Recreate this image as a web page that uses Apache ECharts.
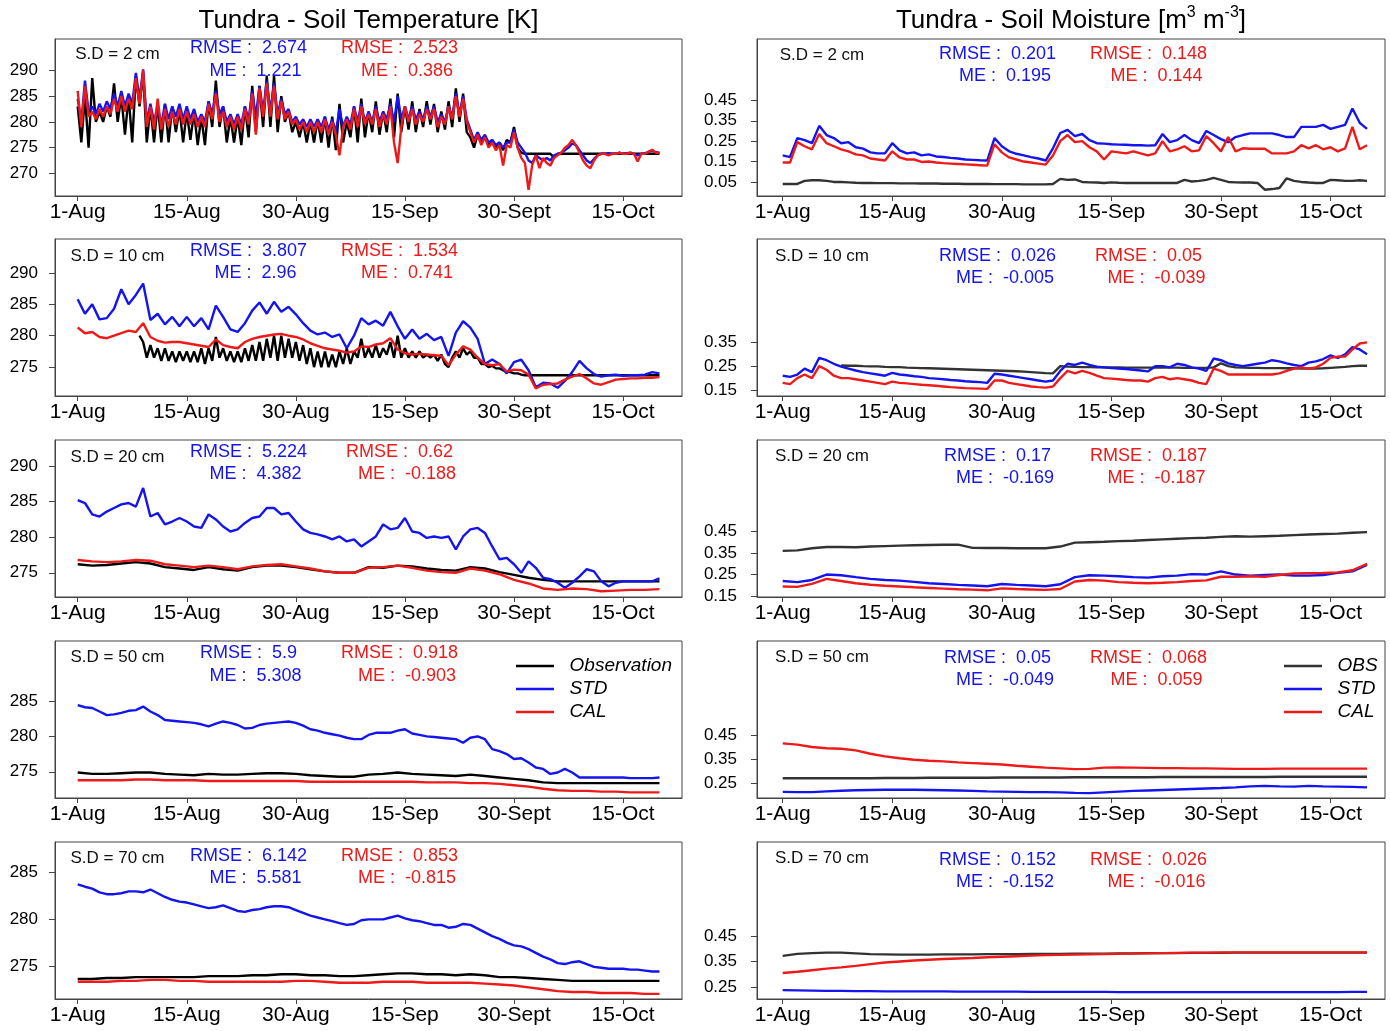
<!DOCTYPE html>
<html>
<head>
<meta charset="utf-8">
<script src="https://cdn.jsdelivr.net/npm/echarts@6.0.0/dist/echarts.min.js"></script>
<style>html,body{margin:0;padding:0;background:#fff}#chart{width:1390px;height:1031px}</style>
</head>
<body>
<div id="chart"></div>
<script>
// x values are days since 1-Aug
const tickDays = [0, 15, 30, 45, 60, 75];
const tickLabels = ['1-Aug', '15-Aug', '30-Aug', '15-Sep', '30-Sept', '15-Oct'];

// ---- soil temperature [K] ----
// 2 cm, every half day from 1-Aug
const tObs2 = [
  283, 276, 285, 275, 288.5, 280, 282, 280, 283, 281,
  287.5, 280, 285, 277.5, 285, 276, 289, 283, 289.5, 276,
  283, 276, 283.5, 276, 283.5, 276, 283, 278, 282.5, 276,
  282, 276.5, 282, 275.5, 281, 275.5, 284, 279, 288, 279,
  283, 276, 281, 276, 281, 275.5, 283, 277, 287, 278,
  287, 279, 289, 279, 289, 278, 285, 280, 282, 278,
  280, 277, 280, 276, 280, 276, 280.5, 276, 281, 275,
  281, 274.5, 283.5, 276, 280, 277, 283, 276, 284.5, 277,
  282, 278, 284, 277.5, 282, 278, 284.5, 277, 285.5, 278,
  283, 278.5, 284, 278, 282.5, 279, 284, 279.5, 283.5, 278,
  282, 278.5, 284, 279, 286.5, 280, 285.5, 278, 277, 275,
  277.5, 276, 277, 275.5, 276.5, 275, 276, 274.5, 276.5, 276,
  279, 275, 274, 273.8, 273.8, 273.8, 273.8, 273.8, 273.8, 273.8,
  273.8, 273.1, 273.8, 273.8, 273.8, 273.8, 273.8, 273.8, 273.8, 273.8,
  273.8, 273.8, 273.8, 273.8, 273.8, 273.8, 273.8, 273.8, 273.8, 273.8,
  273.8, 273.8, 273.8, 273.8, 273.8, 273.8, 273.8, 273.8, 273.8, 273.8,
  273.8
];
const tStd2 = [
  284.5, 280, 288, 282, 283, 281.5, 283.5, 282, 284, 282.5,
  285.5, 283, 286, 283, 285.5, 283.5, 289.5, 284.5, 290.2, 280,
  283.5, 280, 283, 279.5, 283.5, 280.5, 283, 281, 283.5, 280.5,
  283, 280.5, 282.5, 280, 281.5, 280, 284, 281.5, 286, 281.5,
  283, 280, 281.5, 279.5, 281.5, 279.5, 283, 280.5, 286, 281,
  287, 282, 288, 282, 287.5, 281.5, 284.5, 281.5, 282.5, 280,
  281, 279.5, 280.5, 279, 280.5, 279, 280.5, 279, 281, 278.5,
  280.5, 278, 282.5, 279, 281, 279.5, 283, 280, 283.5, 280,
  282, 280, 283, 280, 282, 280.5, 283.5, 280, 285, 280.5,
  283, 280.5, 283, 280.5, 282, 280.5, 283, 281, 283, 280,
  281.5, 280, 283, 281, 285.5, 281.5, 285, 280.5, 278.5, 276.5,
  278, 276.5, 277.5, 276, 276.5, 275.5, 276, 275, 276, 276,
  278.5, 276, 275, 274, 272.5, 272, 273.5, 273, 272.5, 273,
  272.5, 273.5, 273.8, 274, 274.5, 275, 275.8, 275.5, 274.5, 273.5,
  272.5, 272, 272.8, 273.5, 273.8, 273.8, 273.9, 273.8, 273.8, 274,
  273.8, 273.9, 274, 273.8, 273.5, 273.8, 273.9, 274.2, 274.4, 274.1,
  274
];
const tCal2 = [
  286, 279, 287, 281, 282, 280.5, 282.5, 281, 283, 281.5,
  284.5, 282, 285, 282, 284.5, 282.5, 288.5, 283.5, 290, 279,
  283, 278.5, 284.5, 278.5, 282.5, 279, 282, 279.5, 282.5, 279.5,
  282, 279.5, 281.5, 279, 281, 279, 283.5, 280.5, 285.5, 280,
  282, 279, 281, 278.5, 281, 278.5, 282.5, 279.5, 285.5, 277.5,
  286.5, 281, 287.5, 281, 287, 280.5, 284, 280.5, 282, 279.5,
  280.5, 278.5, 280, 278, 280, 278, 280, 278, 280.5, 277.5,
  280, 277.5, 273.5, 279, 280.5, 278.5, 282.5, 279, 283, 279.5,
  281.5, 279.5, 282.5, 279, 281.5, 279.5, 283, 276, 272, 279,
  283, 280, 282.5, 279.5, 281.5, 280, 282.5, 280.5, 282.5, 279,
  281, 279.5, 283, 280.5, 285, 281, 284.5, 280, 278, 276,
  277.5, 275.5, 277, 275, 276, 274.5, 275.5, 271.5, 275.5, 275,
  278, 275, 273, 272, 266.8, 271.6, 273.5, 271, 273, 272,
  271.5, 273, 273.5, 274, 275, 275.5, 276.5, 275.5, 274, 272.5,
  271.5, 271, 272.5, 273.5, 273.8, 273.8, 273.5, 273.8, 273.8, 274,
  273.8, 273.8, 274, 273.8, 272.3, 273.8, 273.8, 274.2, 274.6, 274,
  274
];
// 10 cm: observation every half day from 9-Aug, model daily
const tObs10 = [
  280, 279, 276.5, 278.5, 276.5, 278, 276, 278, 276, 277.5,
  275.8, 277.5, 276, 277.5, 275.8, 277.5, 275.8, 278, 275.5, 278,
  276, 279.8, 276.5, 278, 276, 277.5, 275.8, 277.5, 275.8, 278,
  276, 278.5, 276, 279, 276, 279.5, 276.5, 280, 276, 280,
  276.5, 279.5, 276.5, 279, 276, 278.5, 275.5, 278, 275, 277.5,
  275, 277.5, 275, 277, 275, 277.5, 275.5, 278, 275.5, 277.5,
  276.5, 279.5, 276.5, 278, 276.5, 278.5, 276.5, 278, 277, 279,
  276.5, 280, 276.5, 278, 276.5, 277.5, 276.5, 277.5, 276.5, 277,
  276.5, 277, 276, 277, 275.5, 275, 276.5, 277.5, 276.5, 278,
  277, 277.5, 276.5, 276.5, 275.5, 275.5, 275, 275.2, 274.8, 274.8,
  274.5, 274.3, 274.2, 274, 274, 273.8, 273.7, 273.7, 273.7, 273.7,
  273.7, 273.7, 273.7, 273.7, 273.7, 273.7, 273.7, 273.7, 273.7, 273.7,
  273.7, 273.7, 273.7, 273.7, 273.7, 273.7, 273.7, 273.7, 273.7, 273.7,
  273.7, 273.7, 273.7, 273.7, 273.7, 273.7, 273.7, 273.7, 273.7, 273.7,
  273.7, 273.7, 273.7, 273.7
];
const tStd10 = [
  285.8, 283.5, 285, 282.6, 282.8, 284.3, 287.4, 285, 286.5, 288.3,
  282.5, 283.5, 281.8, 283, 281.5, 283, 281.5, 282.8, 281, 284.8,
  283, 281, 280.6, 282, 284, 285.3, 283.5, 285.4, 283.8, 284.6,
  283.4, 282, 280.8, 280.2, 280.5, 279.8, 280.2, 278, 280, 282.8,
  281.8, 282.4, 281.6, 283.8, 281.5, 279.5, 281, 279.5, 280.3, 279.3,
  279.8, 276.8, 280.5, 282.3, 281.3, 279.5, 275.5, 276.2, 275.5, 274,
  275.8, 276.2, 274.5, 271.8, 272.5, 272.4, 271.7, 272.8, 274.2, 276,
  274.8, 273.9, 273.5, 273.7, 273.8, 273.6, 273.7, 273.7, 273.8, 274.2,
  274
];
const tCal10 = [
  281.3, 280.4, 280.6, 279.8, 279.6, 280, 280.4, 280.8, 280.6, 282,
  279.8, 279.2, 278.9, 279, 279, 278.8, 278.6, 278.4, 278.2, 279.4,
  278.5, 278.2, 278, 279, 279.5, 279.8, 280, 280.2, 280.3, 280,
  279.8, 279.4, 278.8, 278.4, 278, 277.8, 277.6, 277.3, 277.5, 278.3,
  278.2, 278.6, 278.8, 279.6, 277.8, 277.2, 277, 277.1, 277, 276.9,
  276.8, 275.3, 277, 278.3, 277.8, 276.5, 275.5, 275.3, 275.5, 274.3,
  274.6, 274.5, 273.8, 271.6, 272.2, 272.3, 272.4, 273, 273.5, 273.9,
  273.2, 272.4, 272.2, 272.6, 273, 273.1, 273.2, 273.2, 273.3, 273.3,
  273.4
];
// 20 cm: model STD daily, observation and CAL every 2 days
const tStd20 = [
  285.2, 284.8, 283.2, 282.9, 283.6, 284.1, 284.6, 284.8, 284.3, 286.9,
  282.9, 283.4, 281.8, 282.2, 282.7, 282.2, 281.5, 281.3, 283.2, 282.5,
  281.5, 280.8, 281.1, 282, 282.7, 282.9, 284.1, 284.1, 283.2, 283.4,
  282.2, 281.1, 280.6, 280.4, 280.1, 279.7, 280.1, 279.4, 279.7, 278.7,
  279.4, 280.1, 281.8, 281.1, 281.3, 282.7, 280.8, 280.6, 279.9, 280.1,
  279.9, 280.1, 278.3, 280.1, 281.1, 281.3, 280.6, 278.7, 276.9, 277.1,
  276.2, 275, 276.6, 275.7, 274.3, 274.1, 273.6, 272.9, 273.6, 274.5,
  275.5, 275.2, 273.8, 273.1, 273.6, 273.8, 273.8, 273.8, 273.8, 273.8,
  274.2
];
const tObs20 = [
  276.2, 276, 276.1, 276.3, 276.5, 276.3, 275.8, 275.6, 275.4, 275.8,
  275.5, 275.3, 275.8, 276, 276, 275.8, 275.5, 275.2, 275, 275,
  275.8, 275.7, 276, 275.9, 275.6, 275.4, 275.3, 275.8, 275.6, 275.1,
  274.7, 274.3, 274, 273.8, 273.8, 273.8, 273.8, 273.8, 273.8, 273.8,
  273.8
];
const tCal20 = [
  276.8, 276.6, 276.5, 276.6, 276.8, 276.7, 276.2, 276, 275.8, 276,
  275.8, 275.5, 275.9, 276.1, 276.2, 275.9, 275.6, 275.2, 275, 275,
  275.7, 275.8, 276, 275.7, 275.3, 275.1, 275, 275.6, 275.3, 274.8,
  274, 273.5, 272.8, 272.6, 272.8, 272.7, 272.4, 272.5, 272.6, 272.6,
  272.7
];
// 50 cm
const tStd50 = [
  284.4, 284.1, 284, 283.5, 283, 283.1, 283.3, 283.6, 283.7, 284.2,
  283.5, 283, 282.3, 282.2, 282.1, 282, 281.9, 281.7, 281.4, 281.8,
  282.1, 281.9, 281.6, 281.1, 281.2, 281.6, 281.8, 281.9, 282, 282.1,
  281.9, 281.5, 281, 280.8, 280.5, 280.3, 280.1, 279.8, 279.6, 279.6,
  280.2, 280.5, 280.5, 280.5, 280.8, 281, 280.4, 280.2, 280, 279.9,
  279.8, 279.7, 279.6, 279.1, 279.8, 280, 279.6, 278.2, 277.9, 277.5,
  276.8, 276.9, 276.3, 275.6, 275.4, 274.7, 274.9, 275.4, 274.9, 274.2,
  274.2, 274.2, 274.2, 274.2, 274.2, 274.2, 274.1, 274.1, 274.1, 274.1,
  274.2
];
const tObs50 = [
  274.9, 274.7, 274.7, 274.8, 274.9, 274.9, 274.7, 274.6, 274.5, 274.7,
  274.6, 274.6, 274.7, 274.8, 274.8, 274.7, 274.5, 274.4, 274.3, 274.3,
  274.6, 274.7, 274.9, 274.7, 274.6, 274.5, 274.4, 274.6, 274.4, 274.2,
  274, 273.8, 273.5, 273.4, 273.4, 273.4, 273.4, 273.4, 273.4, 273.4,
  273.4
];
const tCal50 = [
  273.8, 273.8, 273.8, 273.8, 273.9, 273.9, 273.8, 273.8, 273.8, 273.7,
  273.7, 273.7, 273.7, 273.7, 273.7, 273.7, 273.6, 273.6, 273.6, 273.6,
  273.6, 273.6, 273.6, 273.6, 273.5, 273.5, 273.5, 273.4, 273.4, 273.3,
  273.1, 272.9, 272.6, 272.4, 272.3, 272.3, 272.2, 272.2, 272.1, 272.1,
  272.1
];
// 70 cm
const tStd70 = [
  283.75, 283.5, 283.3, 282.9, 282.7, 282.7, 282.8, 283, 283, 282.9,
  283.2, 282.8, 282.4, 282.1, 281.9, 281.8, 281.6, 281.4, 281.2, 281.3,
  281.5, 281.2, 280.9, 280.8, 281, 281.1, 281.3, 281.4, 281.4, 281.3,
  281, 280.7, 280.4, 280.2, 280, 279.8, 279.6, 279.4, 279.5, 279.9,
  280, 280, 280, 280.2, 280.4, 280.1, 279.9, 279.8, 279.6, 279.4,
  279.4, 279.1, 279.2, 279.5, 279.4, 279, 278.6, 278.2, 277.9, 277.5,
  277.2, 277.1, 276.8, 276.4, 276, 275.7, 275.3, 275.2, 275.4, 275.5,
  275.2, 274.9, 274.8, 274.7, 274.7, 274.7, 274.6, 274.6, 274.5, 274.4,
  274.4
];
const tObs70 = [
  273.6, 273.6, 273.7, 273.7, 273.8, 273.8, 273.8, 273.8, 273.8, 273.9,
  273.9, 273.9, 274, 274, 274.1, 274.1, 274, 274, 273.9, 273.9,
  274, 274.1, 274.2, 274.2, 274.1, 274.1, 274, 274.1, 274, 273.8,
  273.8, 273.7, 273.6, 273.5, 273.4, 273.4, 273.4, 273.4, 273.4, 273.4,
  273.4
];
const tCal70 = [
  273.3, 273.3, 273.3, 273.4, 273.4, 273.5, 273.5, 273.4, 273.4, 273.3,
  273.3, 273.3, 273.3, 273.3, 273.3, 273.4, 273.4, 273.3, 273.2, 273.2,
  273.2, 273.3, 273.3, 273.3, 273.2, 273.2, 273.2, 273.2, 273.1, 273,
  272.9, 272.7, 272.5, 272.3, 272.2, 272.2, 272.1, 272.1, 272.1, 272,
  272
];

// ---- soil moisture [m3 m-3] ----
const mStd2 = [
  0.18, 0.172, 0.265, 0.255, 0.24, 0.325, 0.28, 0.265, 0.24, 0.245,
  0.22, 0.213, 0.195, 0.19, 0.19, 0.24, 0.205, 0.19, 0.195, 0.18,
  0.185, 0.175, 0.172, 0.168, 0.165, 0.16, 0.158, 0.156, 0.155, 0.265,
  0.225, 0.2, 0.188, 0.18, 0.172, 0.165, 0.155, 0.215, 0.29, 0.305,
  0.275, 0.285, 0.255, 0.24, 0.238, 0.235, 0.233, 0.232, 0.23, 0.23,
  0.228, 0.23, 0.285, 0.245, 0.255, 0.28, 0.255, 0.24, 0.3, 0.28,
  0.26, 0.245, 0.27, 0.28, 0.288, 0.288, 0.288, 0.288, 0.28, 0.27,
  0.27, 0.32, 0.32, 0.32, 0.33, 0.31, 0.32, 0.33, 0.41, 0.34,
  0.31
];
const mCal2 = [
  0.145, 0.145, 0.245, 0.225, 0.21, 0.285, 0.24, 0.225, 0.21, 0.2,
  0.185, 0.18, 0.165, 0.16, 0.155, 0.2, 0.17, 0.16, 0.16, 0.148,
  0.15, 0.145, 0.142, 0.14, 0.138, 0.136, 0.134, 0.132, 0.13, 0.235,
  0.195, 0.17, 0.16, 0.15, 0.145, 0.14, 0.135, 0.18, 0.25, 0.28,
  0.245, 0.25, 0.22, 0.2, 0.16, 0.2, 0.195, 0.19, 0.2, 0.19,
  0.18, 0.19, 0.25, 0.2, 0.21, 0.225, 0.2, 0.205, 0.275, 0.24,
  0.2, 0.27, 0.2, 0.215, 0.213, 0.213, 0.213, 0.19, 0.19, 0.19,
  0.2, 0.23, 0.215, 0.23, 0.21, 0.22, 0.2, 0.215, 0.32, 0.21,
  0.23
];
const mObs2 = [
  0.04, 0.04, 0.04, 0.055, 0.058, 0.058, 0.055, 0.05, 0.05, 0.048,
  0.046, 0.045, 0.045, 0.044, 0.044, 0.044, 0.043, 0.043, 0.043, 0.042,
  0.042, 0.042, 0.041, 0.041, 0.041, 0.04, 0.04, 0.04, 0.04, 0.039,
  0.039, 0.039, 0.039, 0.038, 0.038, 0.038, 0.038, 0.04, 0.065, 0.06,
  0.062, 0.05, 0.048, 0.047, 0.045, 0.048, 0.046, 0.045, 0.045, 0.045,
  0.045, 0.045, 0.045, 0.045, 0.045, 0.06, 0.052, 0.055, 0.06, 0.07,
  0.06, 0.05, 0.048, 0.047, 0.047, 0.045, 0.012, 0.015, 0.02, 0.068,
  0.055, 0.05, 0.047, 0.045, 0.045, 0.06, 0.058, 0.055, 0.055, 0.058,
  0.055
];
const mStd10 = [
  0.21, 0.205, 0.215, 0.24, 0.225, 0.285, 0.275, 0.26, 0.248, 0.24,
  0.232, 0.225, 0.22, 0.215, 0.21, 0.222, 0.215, 0.212, 0.208, 0.205,
  0.2, 0.198, 0.195, 0.192, 0.19, 0.187, 0.185, 0.183, 0.18, 0.218,
  0.215, 0.21, 0.205, 0.2, 0.195, 0.19, 0.185, 0.19, 0.23, 0.26,
  0.255, 0.265, 0.255, 0.248, 0.245, 0.242, 0.24, 0.238, 0.235, 0.232,
  0.228, 0.25, 0.25, 0.245, 0.26, 0.255, 0.245, 0.24, 0.23, 0.282,
  0.275, 0.262, 0.255, 0.25, 0.255, 0.26, 0.265, 0.275, 0.27, 0.262,
  0.255, 0.25, 0.265, 0.27, 0.28, 0.295, 0.285, 0.3, 0.33, 0.32,
  0.3
];
const mCal10 = [
  0.18, 0.175, 0.2, 0.215, 0.2, 0.25, 0.235, 0.21, 0.2, 0.2,
  0.195, 0.19, 0.185, 0.18, 0.175, 0.185, 0.18, 0.178, 0.175, 0.172,
  0.17, 0.168, 0.165, 0.162, 0.16, 0.158, 0.157, 0.156, 0.155, 0.19,
  0.19, 0.18, 0.175, 0.17, 0.165, 0.162, 0.16, 0.165, 0.2, 0.23,
  0.22, 0.23, 0.222, 0.21, 0.2, 0.198, 0.195, 0.192, 0.19, 0.19,
  0.185, 0.2, 0.205, 0.195, 0.2, 0.195, 0.19, 0.18, 0.175, 0.24,
  0.23, 0.215, 0.215, 0.215, 0.215, 0.215, 0.215, 0.215, 0.22, 0.23,
  0.24, 0.245, 0.24, 0.245, 0.26, 0.285, 0.29, 0.29, 0.32, 0.345,
  0.35
];
// observation starts on 9-Aug
const mObs10 = [
  0.253, 0.252, 0.252, 0.25, 0.249, 0.249, 0.247, 0.246, 0.246, 0.244,
  0.243, 0.242, 0.241, 0.24, 0.239, 0.238, 0.237, 0.236, 0.235, 0.234,
  0.233, 0.232, 0.231, 0.23, 0.229, 0.227, 0.225, 0.223, 0.221, 0.22,
  0.25, 0.248, 0.247, 0.246, 0.246, 0.245, 0.245, 0.245, 0.245, 0.244,
  0.244, 0.244, 0.244, 0.244, 0.244, 0.244, 0.244, 0.243, 0.243, 0.243,
  0.243, 0.245, 0.262, 0.25, 0.245, 0.244, 0.243, 0.243, 0.242, 0.242,
  0.242, 0.241, 0.241, 0.24, 0.24, 0.24, 0.241, 0.243, 0.245, 0.247,
  0.25, 0.252, 0.252
];
// 20, 50, 70 cm every 2 days
const mObs20 = [
  0.36, 0.362, 0.372, 0.378, 0.378, 0.377, 0.38, 0.382, 0.384, 0.386,
  0.387, 0.388, 0.389, 0.374, 0.373, 0.373, 0.372, 0.372, 0.372, 0.38,
  0.398, 0.4, 0.402, 0.405, 0.407, 0.41, 0.413, 0.416, 0.419, 0.421,
  0.425, 0.428, 0.426, 0.428, 0.43, 0.433, 0.436, 0.438, 0.44, 0.444,
  0.447
];
const mStd20 = [
  0.22, 0.215, 0.225, 0.25, 0.247, 0.238, 0.23, 0.225, 0.222, 0.216,
  0.21, 0.206, 0.202, 0.199, 0.196, 0.206, 0.202, 0.199, 0.196, 0.205,
  0.238, 0.247, 0.245, 0.242, 0.238, 0.236, 0.242, 0.245, 0.252, 0.25,
  0.265, 0.25, 0.245, 0.248, 0.25, 0.245, 0.245, 0.248, 0.258, 0.265,
  0.295
];
const mCal20 = [
  0.195, 0.193, 0.207, 0.23, 0.22, 0.21, 0.203, 0.198, 0.195, 0.191,
  0.188, 0.185, 0.182, 0.18, 0.177, 0.186, 0.183, 0.181, 0.179, 0.183,
  0.218, 0.225, 0.222, 0.215, 0.212, 0.21, 0.212, 0.215, 0.22, 0.223,
  0.24, 0.24, 0.242, 0.24, 0.248, 0.255, 0.256, 0.257, 0.26, 0.27,
  0.3
];
const mObs50 = [
  0.27, 0.27, 0.27, 0.27, 0.27, 0.27, 0.27, 0.271, 0.271, 0.271,
  0.272, 0.272, 0.272, 0.272, 0.272, 0.273, 0.273, 0.273, 0.273, 0.273,
  0.274, 0.274, 0.274, 0.274, 0.274, 0.274, 0.275, 0.275, 0.275, 0.275,
  0.275, 0.275, 0.275, 0.275, 0.276, 0.276, 0.276, 0.276, 0.276, 0.276,
  0.276
];
const mStd50 = [
  0.213, 0.212, 0.212, 0.215, 0.218, 0.22, 0.221, 0.222, 0.222, 0.222,
  0.221, 0.22, 0.219, 0.217, 0.215, 0.214, 0.213, 0.212, 0.212, 0.211,
  0.209, 0.208, 0.211, 0.214, 0.217, 0.219, 0.221, 0.223, 0.225, 0.227,
  0.229, 0.232, 0.236, 0.238, 0.236, 0.235, 0.238, 0.236, 0.235, 0.234,
  0.232
];
const mCal50 = [
  0.415, 0.41, 0.4, 0.395, 0.393, 0.386, 0.372, 0.361, 0.353, 0.347,
  0.343, 0.34, 0.336, 0.333, 0.33, 0.327, 0.322, 0.318, 0.314, 0.311,
  0.308, 0.309, 0.314, 0.315, 0.314, 0.313, 0.312, 0.312, 0.311, 0.311,
  0.31, 0.309, 0.309, 0.309, 0.31, 0.31, 0.31, 0.31, 0.31, 0.31,
  0.31
];
const mObs70 = [
  0.372, 0.38, 0.383, 0.385, 0.385, 0.382, 0.379, 0.378, 0.377, 0.377,
  0.377, 0.378, 0.378, 0.378, 0.379, 0.379, 0.379, 0.38, 0.38, 0.38,
  0.381, 0.381, 0.381, 0.382, 0.382, 0.383, 0.383, 0.383, 0.384, 0.384,
  0.384, 0.385, 0.385, 0.385, 0.385, 0.385, 0.385, 0.385, 0.385, 0.385,
  0.385
];
const mStd70 = [
  0.238, 0.237, 0.236, 0.235, 0.235, 0.234, 0.234, 0.233, 0.233, 0.233,
  0.233, 0.233, 0.232, 0.232, 0.232, 0.232, 0.232, 0.231, 0.231, 0.231,
  0.231, 0.231, 0.231, 0.23, 0.23, 0.23, 0.23, 0.23, 0.23, 0.23,
  0.23, 0.23, 0.23, 0.23, 0.23, 0.23, 0.23, 0.23, 0.23, 0.231,
  0.231
];
const mCal70 = [
  0.305, 0.31, 0.316, 0.322, 0.327, 0.333, 0.34, 0.346, 0.35, 0.354,
  0.357, 0.36, 0.362, 0.364, 0.367, 0.369, 0.371, 0.373, 0.375, 0.376,
  0.377, 0.378, 0.379, 0.38, 0.381, 0.382, 0.383, 0.384, 0.385, 0.385,
  0.386, 0.386, 0.386, 0.386, 0.386, 0.386, 0.386, 0.386, 0.386, 0.386,
  0.386
];

// ---- labels and scores ----
const depths = ['S.D = 2 cm', 'S.D = 10 cm', 'S.D = 20 cm', 'S.D = 50 cm', 'S.D = 70 cm'];
const tRmseStd = ['2.674', '3.807', '5.224', '5.9', '6.142'];
const tMeStd = ['1.221', '2.96', '4.382', '5.308', '5.581'];
const tRmseCal = ['2.523', '1.534', '0.62', '0.918', '0.853'];
const tMeCal = ['0.386', '0.741', '-0.188', '-0.903', '-0.815'];
const mRmseStd = ['0.201', '0.026', '0.17', '0.05', '0.152'];
const mMeStd = ['0.195', '-0.005', '-0.169', '-0.049', '-0.152'];
const mRmseCal = ['0.148', '0.05', '0.187', '0.068', '0.026'];
const mMeCal = ['0.144', '-0.039', '-0.187', '0.059', '-0.016'];

const tTicks = [[270, 275, 280, 285, 290], [275, 280, 285, 290], [275, 280, 285, 290], [275, 280, 285], [275, 280, 285]];
const mTicks = [[0.05, 0.15, 0.25, 0.35, 0.45], [0.15, 0.25, 0.35], [0.15, 0.25, 0.35, 0.45], [0.25, 0.35, 0.45], [0.25, 0.35, 0.45]];

// ---- layout ----
const FONT = '"Liberation Sans", Arial, sans-serif';
const BLUE = '#1414ee', RED = '#ee1a1a';
const ROW_TOP = [39, 239, 440, 641, 842], ROW_H = 157;
const COL = [
  { left: 55, width: 627, xMin: -3.12, xMax: 83.1, margin: 17 },
  { left: 757, width: 628, xMin: -3.52, xMax: 82.46, margin: 20 }
];
const tRange = [[265.6, 296.1], [270.4, 295.4], [271.6, 293.65], [271.3, 293.45], [271.45, 288.3]];
const mRange = [[-0.019, 0.751], [0.125, 0.783], [0.146, 0.874], [0.1875, 0.842], [0.203, 0.819]];
const txtY = [
  [[54, 48, 71], [256, 251, 273], [457, 452, 474], [657, 653, 676], [858, 856, 878]],
  [[55, 54, 76], [256, 256, 278], [456, 456, 478], [657, 658, 680], [858, 860, 882]]
];
const txtX = [
  { sd: 117.5, rs: 248.5, ms: 255.5, rc: 399.5, mc: 407 },
  { sd: 822, rs: 997.5, ms: 1005, rc: 1148.5, mc: 1156.5 }
];

const pts = (vals, start, step) => vals.map((v, i) => [start + i * step, v]);

const panels = [
  // temperature column
  { col: 0, row: 0, s: [[tObs2, 0, 0.5], [tStd2, 0, 0.5], [tCal2, 0, 0.5]] },
  { col: 0, row: 1, s: [[tObs10, 8.5, 0.5], [tStd10, 0, 1], [tCal10, 0, 1]] },
  { col: 0, row: 2, s: [[tObs20, 0, 2], [tStd20, 0, 1], [tCal20, 0, 2]] },
  { col: 0, row: 3, s: [[tObs50, 0, 2], [tStd50, 0, 1], [tCal50, 0, 2]] },
  { col: 0, row: 4, s: [[tObs70, 0, 2], [tStd70, 0, 1], [tCal70, 0, 2]] },
  // moisture column
  { col: 1, row: 0, s: [[mObs2, 0, 1], [mStd2, 0, 1], [mCal2, 0, 1]] },
  { col: 1, row: 1, s: [[mObs10, 8, 1], [mStd10, 0, 1], [mCal10, 0, 1]] },
  { col: 1, row: 2, s: [[mObs20, 0, 2], [mStd20, 0, 2], [mCal20, 0, 2]] },
  { col: 1, row: 3, s: [[mObs50, 0, 2], [mStd50, 0, 2], [mCal50, 0, 2]] },
  { col: 1, row: 4, s: [[mObs70, 0, 2], [mStd70, 0, 2], [mCal70, 0, 2]] }
];

const grid = [], xAxis = [], yAxis = [], series = [], graphic = [];
const axisColor = '#444';

panels.forEach((p, g) => {
  const c = COL[p.col];
  const isT = p.col === 0;
  const range = isT ? tRange[p.row] : mRange[p.row];
  const ticks = isT ? tTicks[p.row] : mTicks[p.row];
  grid.push({ left: c.left, top: ROW_TOP[p.row], width: c.width, height: ROW_H,
    show: true, borderColor: axisColor, borderWidth: 1, backgroundColor: 'transparent' });
  xAxis.push({
    type: 'value', gridIndex: g, min: c.xMin, max: c.xMax,
    axisLine: { show: true, onZero: false, lineStyle: { color: axisColor } },
    axisTick: { show: true, customValues: tickDays, length: 5, lineStyle: { color: axisColor } },
    axisLabel: { customValues: tickDays, formatter: v => tickLabels[tickDays.indexOf(v)],
      fontSize: 21, fontFamily: FONT, color: '#000', margin: 6 },
    splitLine: { show: false }
  });
  yAxis.push({
    type: 'value', gridIndex: g, min: range[0], max: range[1],
    axisLine: { show: true, onZero: false, lineStyle: { color: axisColor } },
    axisTick: { show: true, customValues: ticks, length: 6, lineStyle: { color: axisColor } },
    axisLabel: { customValues: ticks, formatter: v => isT ? String(v) : v.toFixed(2),
      fontSize: 17, fontFamily: FONT, color: '#000', margin: c.margin },
    splitLine: { show: false }
  });
  const names = [isT ? 'Observation' : 'OBS', 'STD', 'CAL'];
  const colors = [isT ? '#000' : '#333', BLUE, RED];
  p.s.forEach((sp, k) => {
    series.push({
      type: 'line', name: names[k], xAxisIndex: g, yAxisIndex: g,
      data: pts(sp[0], sp[1], sp[2]), showSymbol: false, symbol: 'none',
      lineStyle: { color: colors[k], width: 2.4 }, itemStyle: { color: colors[k] },
      z: 2 + k
    });
  });
  // panel texts
  const tx = txtX[p.col], ty = txtY[p.col][p.row];
  const rs = isT ? tRmseStd : mRmseStd, ms = isT ? tMeStd : mMeStd;
  const rc = isT ? tRmseCal : mRmseCal, mc = isT ? tMeCal : mMeCal;
  const txt = (text, x, y, fill, size) => ({ type: 'text', z: 10, style: {
    text, x, y, fill, fontSize: size, fontFamily: FONT, align: 'center', verticalAlign: 'middle' } });
  graphic.push(
    txt(depths[p.row], tx.sd, ty[0], '#111', 17),
    txt('RMSE :  ' + rs[p.row], tx.rs, ty[1], BLUE, 18),
    txt('ME :  ' + ms[p.row], tx.ms, ty[2], BLUE, 18),
    txt('RMSE :  ' + rc[p.row], tx.rc, ty[1], RED, 18),
    txt('ME :  ' + mc[p.row], tx.mc, ty[2], RED, 18)
  );
});

graphic.push(
  { type: 'text', style: { text: 'Tundra - Soil Temperature [K]', x: 368.5, y: 21, fill: '#000',
    fontSize: 26, fontFamily: FONT, align: 'center', verticalAlign: 'middle' } },
  { type: 'text', style: { text: 'Tundra - Soil Moisture [m{s|3} m{s|-3}]', x: 1071, y: 21, fill: '#000',
    fontSize: 26, fontFamily: FONT, align: 'center', verticalAlign: 'middle', lineHeight: 32,
    rich: { s: { fontSize: 16, fontFamily: FONT, fill: '#000', verticalAlign: 'top', lineHeight: 16 } } } }
);

const legendBase = {
  orient: 'vertical', icon: 'rect', itemWidth: 38, itemHeight: 2.5, itemGap: 3,
  selectedMode: false, top: 651, formatter: n => '  ' + n,
  textStyle: { fontSize: 19, fontStyle: 'italic', fontFamily: FONT, color: '#000', lineHeight: 20 }
};

const chart = echarts.init(document.getElementById('chart'));
chart.setOption({
  animation: false,
  backgroundColor: '#fff',
  legend: [
    Object.assign({}, legendBase, { data: ['Observation', 'STD', 'CAL'], left: 511 }),
    Object.assign({}, legendBase, { data: ['OBS', 'STD', 'CAL'], left: 1279 })
  ],
  grid, xAxis, yAxis, series, graphic
});
window.addEventListener('resize', () => chart.resize());
</script>
</body>
</html>
